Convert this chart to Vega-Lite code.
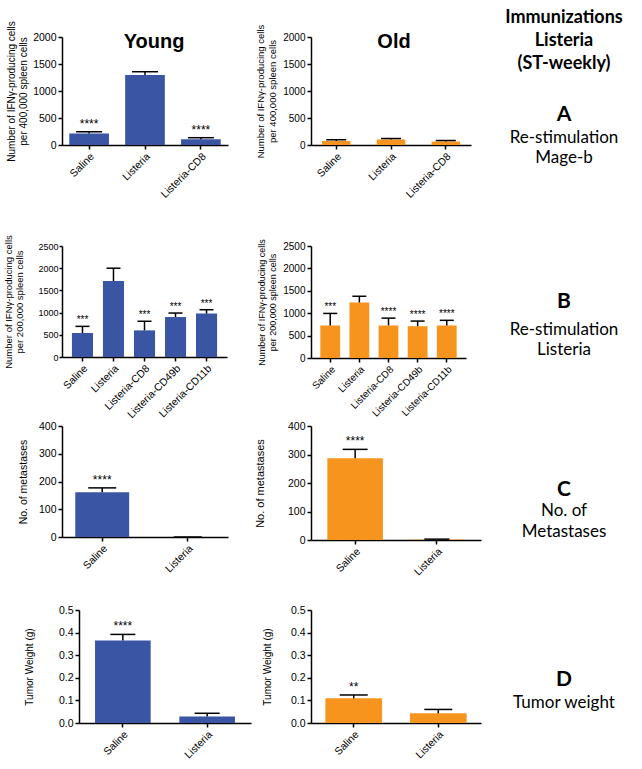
{
  "$schema": "https://vega.github.io/schema/vega-lite/v6.json",
  "background": "white",
  "padding": {"left": 3, "top": 9, "right": 0, "bottom": 0},
  "autosize": {"type": "pad"},
  "config": {
    "view": {"stroke": null},
    "font": "Liberation Sans",
    "axis": {"domainColor": "#000", "domainWidth": 1.5, "tickColor": "#000", "tickWidth": 1.5, "tickSize": 4, "labelColor": "#000", "titleColor": "#000", "titleFontWeight": "normal", "grid": false, "labelFont": "Liberation Sans", "titleFont": "Liberation Sans", "labelPadding": 2, "labelOverlap": false},
    "axisY": {"tickCount": 5},
    "axisX": {"labelAngle": -45, "labelFontSize": 10.5}
  },
  "datasets": {
    "aY": [{"g": "Saline", "v": 215, "hi": 245, "sig": "****"}, {"g": "Listeria", "v": 1296, "hi": 1357, "sig": ""}, {"g": "Listeria-CD8", "v": 105, "hi": 135, "sig": "****"}],
    "aO": [{"g": "Saline", "v": 75, "hi": 95, "sig": ""}, {"g": "Listeria", "v": 102, "hi": 120, "sig": ""}, {"g": "Listeria-CD8", "v": 64, "hi": 83, "sig": ""}],
    "bY": [{"g": "Saline", "v": 540, "hi": 690, "sig": "***"}, {"g": "Listeria", "v": 1711, "hi": 2000, "sig": ""}, {"g": "Listeria-CD8", "v": 600, "hi": 805, "sig": "***"}, {"g": "Listeria-CD49b", "v": 900, "hi": 990, "sig": "***"}, {"g": "Listeria-CD11b", "v": 977, "hi": 1065, "sig": "***"}],
    "bO": [{"g": "Saline", "v": 727, "hi": 995, "sig": "***"}, {"g": "Listeria", "v": 1239, "hi": 1378, "sig": ""}, {"g": "Listeria-CD8", "v": 727, "hi": 890, "sig": "****"}, {"g": "Listeria-CD49b", "v": 710, "hi": 824, "sig": "****"}, {"g": "Listeria-CD11b", "v": 727, "hi": 841, "sig": "****"}],
    "cY": [{"g": "Saline", "v": 161, "hi": 177, "sig": "****"}, {"g": "Listeria", "v": 0, "hi": 0, "sig": ""}],
    "cO": [{"g": "Saline", "v": 287, "hi": 318, "sig": "****"}, {"g": "Listeria", "v": 2, "hi": 3, "sig": ""}],
    "dY": [{"g": "Saline", "v": 0.365, "hi": 0.392, "sig": "****"}, {"g": "Listeria", "v": 0.029, "hi": 0.043, "sig": ""}],
    "dO": [{"g": "Saline", "v": 0.109, "hi": 0.124, "sig": "**"}, {"g": "Listeria", "v": 0.043, "hi": 0.06, "sig": ""}],
    "tA": [{"t": "Immunizations", "line": 1, "s": "h"}, {"t": "Listeria", "line": 2, "s": "h"}, {"t": "(ST-weekly)", "line": 3, "s": "h"}, {"t": "A", "line": 5.2, "s": "l"}, {"t": "Re-stimulation", "line": 6.2, "s": "n"}, {"t": "Mage-b", "line": 7.1, "s": "n"}],
    "tB": [{"t": "B", "line": 1, "s": "l"}, {"t": "Re-stimulation", "line": 2.2, "s": "n"}, {"t": "Listeria", "line": 3.1, "s": "n"}],
    "tC": [{"t": "C", "line": 1, "s": "l"}, {"t": "No. of", "line": 1.91, "s": "n"}, {"t": "Metastases", "line": 2.83, "s": "n"}],
    "tD": [{"t": "D", "line": 1, "s": "l"}, {"t": "Tumor weight", "line": 2, "s": "n"}]
  },
  "bounds": "flush",
  "columns": 3,
  "align": {"row": "each", "column": "each"},
  "spacing": {"row": 68, "column": 60},
  "concat": [
    {
      "width": 166, "height": 108,
      "layer": [
        {
          "data": {"name": "aY"},
          "encoding": {"x": {"field": "g", "type": "nominal", "sort": null, "title": null, "scale": {"paddingInner": 0.29, "paddingOuter": 0.13}}},
          "layer": [
            {"mark": {"type": "bar", "color": "#3B55A5"}, "encoding": {"y": {"field": "v", "type": "quantitative", "scale": {"domain": [0, 2000], "nice": false}, "axis": {"tickCount": {"expr": "5"}, "labelOverlap": false, "format": "d", "title": ["Number of IFNγ-producing cells", "per 400,000 spleen cells"], "titleFontSize": 10, "titleLineHeight": 12, "titlePadding": 4, "labelFontSize": 10.5}}}},
            {"mark": {"type": "rule", "color": "#000", "strokeWidth": 1.5}, "encoding": {"y": {"field": "v", "type": "quantitative", "axis": {"tickCount": {"expr": "5"}, "labelOverlap": false, "format": "d", "title": ["Number of IFNγ-producing cells", "per 400,000 spleen cells"], "titleFontSize": 10, "titleLineHeight": 12, "titlePadding": 4, "labelFontSize": 10.5}}, "y2": {"field": "hi"}}},
            {"mark": {"type": "tick", "color": "#000", "thickness": 1.5, "size": 26, "opacity": 1}, "encoding": {"y": {"field": "hi", "type": "quantitative", "axis": {"tickCount": {"expr": "5"}, "labelOverlap": false, "format": "d", "title": ["Number of IFNγ-producing cells", "per 400,000 spleen cells"], "titleFontSize": 10, "titleLineHeight": 12, "titlePadding": 4, "labelFontSize": 10.5}}}},
            {"mark": {"type": "text", "baseline": "bottom", "dy": -1, "fontSize": 12, "color": "#000"}, "encoding": {"y": {"field": "hi", "type": "quantitative", "axis": {"tickCount": {"expr": "5"}, "labelOverlap": false, "format": "d", "title": ["Number of IFNγ-producing cells", "per 400,000 spleen cells"], "titleFontSize": 10, "titleLineHeight": 12, "titlePadding": 4, "labelFontSize": 10.5}}, "text": {"field": "sig"}}}
          ]
        },
        {"data": {"values": [{"t": "Young"}]}, "mark": {"type": "text", "fontSize": 20, "fontWeight": "bold", "baseline": "alphabetic", "dx": 9, "dy": 11, "color": "#000"}, "encoding": {"y": {"datum": 2000, "type": "quantitative", "axis": {"tickCount": {"expr": "5"}, "labelOverlap": false, "format": "d", "title": ["Number of IFNγ-producing cells", "per 400,000 spleen cells"], "titleFontSize": 10, "titleLineHeight": 12, "titlePadding": 4, "labelFontSize": 10.5}}, "text": {"field": "t"}}}
      ]
    },
    {
      "width": 160, "height": 108,
      "layer": [
        {
          "data": {"name": "aO"},
          "encoding": {"x": {"field": "g", "type": "nominal", "sort": null, "title": null, "scale": {"paddingInner": 0.48, "paddingOuter": 0.2}}},
          "layer": [
            {"mark": {"type": "bar", "color": "#F7941D"}, "encoding": {"y": {"field": "v", "type": "quantitative", "scale": {"domain": [0, 2000], "nice": false}, "axis": {"tickCount": {"expr": "5"}, "labelOverlap": false, "format": "d", "title": ["Number of IFNγ-producing cells", "per 400,000 spleen cells"], "titleFontSize": 9.5, "titleLineHeight": 12, "titlePadding": 5, "labelFontSize": 10}}}},
            {"mark": {"type": "rule", "color": "#000", "strokeWidth": 1.5}, "encoding": {"y": {"field": "v", "type": "quantitative", "axis": {"tickCount": {"expr": "5"}, "labelOverlap": false, "format": "d", "title": ["Number of IFNγ-producing cells", "per 400,000 spleen cells"], "titleFontSize": 9.5, "titleLineHeight": 12, "titlePadding": 5, "labelFontSize": 10}}, "y2": {"field": "hi"}}},
            {"mark": {"type": "tick", "color": "#000", "thickness": 1.5, "size": 20, "opacity": 1}, "encoding": {"y": {"field": "hi", "type": "quantitative", "axis": {"tickCount": {"expr": "5"}, "labelOverlap": false, "format": "d", "title": ["Number of IFNγ-producing cells", "per 400,000 spleen cells"], "titleFontSize": 9.5, "titleLineHeight": 12, "titlePadding": 5, "labelFontSize": 10}}}}
          ]
        },
        {"data": {"values": [{"t": "Old"}]}, "mark": {"type": "text", "fontSize": 20, "fontWeight": "bold", "baseline": "alphabetic", "dx": 3, "dy": 11, "color": "#000"}, "encoding": {"y": {"datum": 2000, "type": "quantitative", "axis": {"tickCount": {"expr": "5"}, "labelOverlap": false, "format": "d", "title": ["Number of IFNγ-producing cells", "per 400,000 spleen cells"], "titleFontSize": 9.5, "titleLineHeight": 12, "titlePadding": 5, "labelFontSize": 10}}, "text": {"field": "t"}}}
      ]
    },
    {
      "width": 46, "height": 141,
      "data": {"name": "tA"},
      "encoding": {"y": {"field": "line", "type": "quantitative", "scale": {"domain": [1.826, 7.957], "reverse": true, "nice": false, "zero": false}, "axis": null}, "text": {"field": "t"}},
      "layer": [
        {"transform": [{"filter": "datum.s == 'h'"}], "mark": {"type": "text", "font": "Lato", "fontWeight": "bold", "fontSize": 18, "color": "#000"}},
        {"transform": [{"filter": "datum.s == 'l'"}], "mark": {"type": "text", "font": "Lato", "fontWeight": "bold", "fontSize": 21, "color": "#000"}},
        {"transform": [{"filter": "datum.s == 'n'"}], "mark": {"type": "text", "font": "Lato", "fontSize": 17, "color": "#000"}}
      ]
    },
    {
      "width": 165, "height": 111,
      "data": {"name": "bY"},
      "encoding": {"x": {"field": "g", "type": "nominal", "sort": null, "title": null, "scale": {"paddingInner": 0.32, "paddingOuter": 0.32}}},
      "layer": [
        {"mark": {"type": "bar", "color": "#3B55A5"}, "encoding": {"y": {"field": "v", "type": "quantitative", "scale": {"domain": [0, 2500], "nice": false}, "axis": {"tickCount": {"expr": "5"}, "labelOverlap": false, "format": "d", "title": ["Number of IFNγ-producing cells", "per 200,000 spleen cells"], "titleFontSize": 9.5, "titleLineHeight": 11, "titlePadding": 13, "labelFontSize": 9, "tickSize": 3, "labelPadding": 1}}}},
        {"mark": {"type": "rule", "color": "#000", "strokeWidth": 1.5}, "encoding": {"y": {"field": "v", "type": "quantitative", "axis": {"tickCount": {"expr": "5"}, "labelOverlap": false, "format": "d", "title": ["Number of IFNγ-producing cells", "per 200,000 spleen cells"], "titleFontSize": 9.5, "titleLineHeight": 11, "titlePadding": 13, "labelFontSize": 9, "tickSize": 3, "labelPadding": 1}}, "y2": {"field": "hi"}}},
        {"mark": {"type": "tick", "color": "#000", "thickness": 1.5, "size": 14, "opacity": 1}, "encoding": {"y": {"field": "hi", "type": "quantitative", "axis": {"tickCount": {"expr": "5"}, "labelOverlap": false, "format": "d", "title": ["Number of IFNγ-producing cells", "per 200,000 spleen cells"], "titleFontSize": 9.5, "titleLineHeight": 11, "titlePadding": 13, "labelFontSize": 9, "tickSize": 3, "labelPadding": 1}}}},
        {"mark": {"type": "text", "baseline": "bottom", "dy": -1, "fontSize": 10, "color": "#000"}, "encoding": {"y": {"field": "hi", "type": "quantitative", "axis": {"tickCount": {"expr": "5"}, "labelOverlap": false, "format": "d", "title": ["Number of IFNγ-producing cells", "per 200,000 spleen cells"], "titleFontSize": 9.5, "titleLineHeight": 11, "titlePadding": 13, "labelFontSize": 9, "tickSize": 3, "labelPadding": 1}}, "text": {"field": "sig"}}}
      ]
    },
    {
      "width": 155, "height": 112,
      "data": {"name": "bO"},
      "encoding": {"x": {"field": "g", "type": "nominal", "sort": null, "title": null, "scale": {"paddingInner": 0.32, "paddingOuter": 0.32}, "axis": {"labelFontSize": 10}}},
      "layer": [
        {"mark": {"type": "bar", "color": "#F7941D"}, "encoding": {"y": {"field": "v", "type": "quantitative", "scale": {"domain": [0, 2500], "nice": false}, "axis": {"tickCount": {"expr": "5"}, "labelOverlap": false, "format": "d", "title": ["Number of IFNγ-producing cells", "per 200,000 spleen cells"], "titleFontSize": 9, "titleLineHeight": 11, "titlePadding": 5, "labelFontSize": 10}}}},
        {"mark": {"type": "rule", "color": "#000", "strokeWidth": 1.5}, "encoding": {"y": {"field": "v", "type": "quantitative", "axis": {"tickCount": {"expr": "5"}, "labelOverlap": false, "format": "d", "title": ["Number of IFNγ-producing cells", "per 200,000 spleen cells"], "titleFontSize": 9, "titleLineHeight": 11, "titlePadding": 5, "labelFontSize": 10}}, "y2": {"field": "hi"}}},
        {"mark": {"type": "tick", "color": "#000", "thickness": 1.5, "size": 14, "opacity": 1}, "encoding": {"y": {"field": "hi", "type": "quantitative", "axis": {"tickCount": {"expr": "5"}, "labelOverlap": false, "format": "d", "title": ["Number of IFNγ-producing cells", "per 200,000 spleen cells"], "titleFontSize": 9, "titleLineHeight": 11, "titlePadding": 5, "labelFontSize": 10}}}},
        {"mark": {"type": "text", "baseline": "bottom", "dy": -1, "fontSize": 10, "color": "#000"}, "encoding": {"y": {"field": "hi", "type": "quantitative", "axis": {"tickCount": {"expr": "5"}, "labelOverlap": false, "format": "d", "title": ["Number of IFNγ-producing cells", "per 200,000 spleen cells"], "titleFontSize": 9, "titleLineHeight": 11, "titlePadding": 5, "labelFontSize": 10}}, "text": {"field": "sig"}}}
      ]
    },
    {
      "width": 46, "height": 112,
      "data": {"name": "tB"},
      "encoding": {"y": {"field": "line", "type": "quantitative", "scale": {"domain": [-1.435, 3.435], "reverse": true, "nice": false, "zero": false}, "axis": null}, "text": {"field": "t"}},
      "layer": [
        {"transform": [{"filter": "datum.s == 'l'"}], "mark": {"type": "text", "font": "Lato", "fontWeight": "bold", "fontSize": 21, "color": "#000"}},
        {"transform": [{"filter": "datum.s == 'n'"}], "mark": {"type": "text", "font": "Lato", "fontSize": 17, "color": "#000"}}
      ]
    },
    {
      "width": 166, "height": 111,
      "data": {"name": "cY"},
      "encoding": {"x": {"field": "g", "type": "nominal", "sort": null, "title": null, "scale": {"paddingInner": 0.37, "paddingOuter": 0.155}}},
      "layer": [
        {"mark": {"type": "bar", "color": "#3B55A5"}, "encoding": {"y": {"field": "v", "type": "quantitative", "scale": {"domain": [0, 400], "nice": false}, "axis": {"tickCount": {"expr": "5"}, "labelOverlap": false, "format": "d", "title": "No. of metastases", "titleFontSize": 10.5, "titlePadding": 10, "labelFontSize": 10.5}}}},
        {"mark": {"type": "rule", "color": "#000", "strokeWidth": 1.5}, "encoding": {"y": {"field": "v", "type": "quantitative", "axis": {"tickCount": {"expr": "5"}, "labelOverlap": false, "format": "d", "title": "No. of metastases", "titleFontSize": 10.5, "titlePadding": 10, "labelFontSize": 10.5}}, "y2": {"field": "hi"}}},
        {"mark": {"type": "tick", "color": "#000", "thickness": 1.5, "size": 28, "opacity": 1}, "encoding": {"y": {"field": "hi", "type": "quantitative", "axis": {"tickCount": {"expr": "5"}, "labelOverlap": false, "format": "d", "title": "No. of metastases", "titleFontSize": 10.5, "titlePadding": 10, "labelFontSize": 10.5}}}},
        {"mark": {"type": "text", "baseline": "bottom", "dy": -1, "fontSize": 12, "color": "#000"}, "encoding": {"y": {"field": "hi", "type": "quantitative", "axis": {"tickCount": {"expr": "5"}, "labelOverlap": false, "format": "d", "title": "No. of metastases", "titleFontSize": 10.5, "titlePadding": 10, "labelFontSize": 10.5}}, "text": {"field": "sig"}}}
      ]
    },
    {
      "width": 170, "height": 114,
      "data": {"name": "cO"},
      "encoding": {"x": {"field": "g", "type": "nominal", "sort": null, "title": null, "scale": {"paddingInner": 0.32, "paddingOuter": 0.2}}},
      "layer": [
        {"mark": {"type": "bar", "color": "#F7941D"}, "encoding": {"y": {"field": "v", "type": "quantitative", "scale": {"domain": [0, 400], "nice": false}, "axis": {"tickCount": {"expr": "5"}, "labelOverlap": false, "format": "d", "title": "No. of metastases", "titleFontSize": 11, "titlePadding": 22, "labelFontSize": 10.5}}}},
        {"mark": {"type": "rule", "color": "#000", "strokeWidth": 1.5}, "encoding": {"y": {"field": "v", "type": "quantitative", "axis": {"tickCount": {"expr": "5"}, "labelOverlap": false, "format": "d", "title": "No. of metastases", "titleFontSize": 11, "titlePadding": 22, "labelFontSize": 10.5}}, "y2": {"field": "hi"}}},
        {"mark": {"type": "tick", "color": "#000", "thickness": 1.5, "size": 25, "opacity": 1}, "encoding": {"y": {"field": "hi", "type": "quantitative", "axis": {"tickCount": {"expr": "5"}, "labelOverlap": false, "format": "d", "title": "No. of metastases", "titleFontSize": 11, "titlePadding": 22, "labelFontSize": 10.5}}}},
        {"mark": {"type": "text", "baseline": "bottom", "dy": -1, "fontSize": 12, "color": "#000"}, "encoding": {"y": {"field": "hi", "type": "quantitative", "axis": {"tickCount": {"expr": "5"}, "labelOverlap": false, "format": "d", "title": "No. of metastases", "titleFontSize": 11, "titlePadding": 22, "labelFontSize": 10.5}}, "text": {"field": "sig"}}}
      ]
    },
    {
      "width": 46, "height": 116,
      "data": {"name": "tC"},
      "encoding": {"y": {"field": "line", "type": "quantitative", "scale": {"domain": [-1.783, 3.261], "reverse": true, "nice": false, "zero": false}, "axis": null}, "text": {"field": "t"}},
      "layer": [
        {"transform": [{"filter": "datum.s == 'l'"}], "mark": {"type": "text", "font": "Lato", "fontWeight": "bold", "fontSize": 21, "color": "#000"}},
        {"transform": [{"filter": "datum.s == 'n'"}], "mark": {"type": "text", "font": "Lato", "fontSize": 17, "color": "#000"}}
      ]
    },
    {
      "width": 189, "height": 113,
      "data": {"name": "dY"},
      "encoding": {"x": {"field": "g", "type": "nominal", "sort": null, "title": null, "scale": {"range": [17, 189], "paddingInner": 0.34, "paddingOuter": 0.19}}},
      "layer": [
        {"mark": {"type": "bar", "color": "#3B55A5"}, "encoding": {"y": {"field": "v", "type": "quantitative", "scale": {"domain": [0, 0.5], "nice": false}, "axis": {"tickCount": {"expr": "5"}, "labelOverlap": false, "format": ".1f", "offset": -17, "title": "Tumor Weight (g)", "titleFontSize": 10, "titlePadding": 24, "labelFontSize": 10.5}}}},
        {"mark": {"type": "rule", "color": "#000", "strokeWidth": 1.5}, "encoding": {"y": {"field": "v", "type": "quantitative", "axis": {"tickCount": {"expr": "5"}, "labelOverlap": false, "format": ".1f", "offset": -17, "title": "Tumor Weight (g)", "titleFontSize": 10, "titlePadding": 24, "labelFontSize": 10.5}}, "y2": {"field": "hi"}}},
        {"mark": {"type": "tick", "color": "#000", "thickness": 1.5, "size": 25, "opacity": 1}, "encoding": {"y": {"field": "hi", "type": "quantitative", "axis": {"tickCount": {"expr": "5"}, "labelOverlap": false, "format": ".1f", "offset": -17, "title": "Tumor Weight (g)", "titleFontSize": 10, "titlePadding": 24, "labelFontSize": 10.5}}}},
        {"mark": {"type": "text", "baseline": "bottom", "dy": -1, "fontSize": 12, "color": "#000"}, "encoding": {"y": {"field": "hi", "type": "quantitative", "axis": {"tickCount": {"expr": "5"}, "labelOverlap": false, "format": ".1f", "offset": -17, "title": "Tumor Weight (g)", "titleFontSize": 10, "titlePadding": 24, "labelFontSize": 10.5}}, "text": {"field": "sig"}}}
      ]
    },
    {
      "width": 170, "height": 113,
      "data": {"name": "dO"},
      "encoding": {"x": {"field": "g", "type": "nominal", "sort": null, "title": null, "scale": {"paddingInner": 0.33, "paddingOuter": 0.17}}},
      "layer": [
        {"mark": {"type": "bar", "color": "#F7941D"}, "encoding": {"y": {"field": "v", "type": "quantitative", "scale": {"domain": [0, 0.5], "nice": false}, "axis": {"tickCount": {"expr": "5"}, "labelOverlap": false, "format": ".1f", "title": "Tumor Weight (g)", "titleFontSize": 10, "titlePadding": 18, "labelFontSize": 10.5}}}},
        {"mark": {"type": "rule", "color": "#000", "strokeWidth": 1.5}, "encoding": {"y": {"field": "v", "type": "quantitative", "axis": {"tickCount": {"expr": "5"}, "labelOverlap": false, "format": ".1f", "title": "Tumor Weight (g)", "titleFontSize": 10, "titlePadding": 18, "labelFontSize": 10.5}}, "y2": {"field": "hi"}}},
        {"mark": {"type": "tick", "color": "#000", "thickness": 1.5, "size": 28, "opacity": 1}, "encoding": {"y": {"field": "hi", "type": "quantitative", "axis": {"tickCount": {"expr": "5"}, "labelOverlap": false, "format": ".1f", "title": "Tumor Weight (g)", "titleFontSize": 10, "titlePadding": 18, "labelFontSize": 10.5}}}},
        {"mark": {"type": "text", "baseline": "bottom", "dy": -1, "fontSize": 12, "color": "#000"}, "encoding": {"y": {"field": "hi", "type": "quantitative", "axis": {"tickCount": {"expr": "5"}, "labelOverlap": false, "format": ".1f", "title": "Tumor Weight (g)", "titleFontSize": 10, "titlePadding": 18, "labelFontSize": 10.5}}, "text": {"field": "sig"}}}
      ]
    },
    {
      "width": 46, "height": 113,
      "data": {"name": "tD"},
      "encoding": {"y": {"field": "line", "type": "quantitative", "scale": {"domain": [-2.043, 2.87], "reverse": true, "nice": false, "zero": false}, "axis": null}, "text": {"field": "t"}},
      "layer": [
        {"transform": [{"filter": "datum.s == 'l'"}], "mark": {"type": "text", "font": "Lato", "fontWeight": "bold", "fontSize": 21, "color": "#000"}},
        {"transform": [{"filter": "datum.s == 'n'"}], "mark": {"type": "text", "font": "Lato", "fontSize": 17, "color": "#000"}}
      ]
    }
  ]
}
